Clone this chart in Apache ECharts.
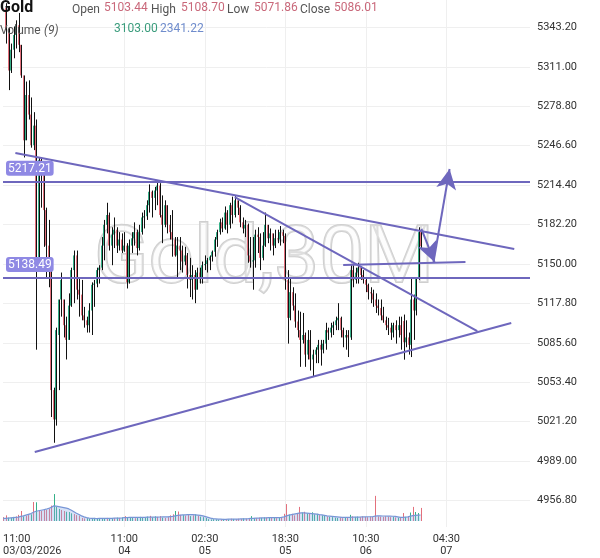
<!DOCTYPE html>
<html><head><meta charset="utf-8">
<script src="https://cdn.jsdelivr.net/npm/echarts@6/dist/echarts.min.js"></script>
<style>html,body{margin:0;padding:0;background:#fff}#c{width:600px;height:558px}</style>
</head><body><div id="c"></div>
<script>
// ---- data (30M bars, Gold) ----
const opens = [
5359,5341,5308,5325,5337,5345,5329,5304,5251,5288,
5272,5247,5263,5152,5235,5227,5194,5165,5152,5047,
5023,5092,5121,5121,5100,5088,5116,5145,5157,5129,
5125,5108,5104,5100,5112,5133,5134,5145,5147,5165,
5182,5190,5165,5174,5178,5165,5170,5161,5165,5135,
5165,5171,5176,5163,5176,5188,5189,5198,5209,5204,
5210,5214,5190,5182,5198,5182,5176,5170,5157,5165,
5161,5152,5157,5141,5137,5141,5129,5143,5139,5149,
5150,5153,5156,5160,5170,5176,5184,5179,5192,5182,
5198,5190,5202,5196,5184,5179,5182,5157,5152,5153,
5174,5172,5155,5165,5182,5171,5175,5165,5171,5170,
5176,5173,5137,5106,5127,5116,5103,5096,5088,5092,
5076,5088,5072,5076,5080,5084,5080,5085,5096,5094,
5098,5100,5104,5106,5096,5090,5092,5090,5145,5137,
5143,5147,5141,5137,5133,5127,5126,5121,5116,5114,
5108,5104,5100,5098,5094,5100,5096,5100,5103.44,5086,
5090,5084,5121,5112,5139,5176];
const closes = [
5341,5308,5325,5337,5345,5329,5304,5251,5288,5272,
5247,5263,5152,5235,5227,5194,5165,5145,5047,5023,
5096,5121,5137,5100,5088,5116,5145,5157,5129,5125,
5108,5104,5100,5112,5133,5134,5145,5147,5165,5182,
5190,5165,5174,5178,5165,5170,5161,5165,5135,5165,
5171,5176,5163,5176,5188,5189,5198,5209,5204,5210,
5214,5190,5182,5198,5182,5176,5170,5157,5165,5161,
5152,5157,5141,5137,5141,5129,5143,5139,5149,5150,
5153,5156,5160,5170,5176,5184,5179,5192,5182,5198,
5190,5202,5196,5184,5179,5182,5157,5152,5153,5174,
5172,5155,5165,5182,5171,5175,5165,5171,5170,5176,
5173,5137,5106,5127,5116,5103,5096,5088,5092,5076,
5088,5072,5076,5080,5084,5080,5085,5096,5094,5098,
5100,5104,5106,5096,5090,5092,5090,5145,5137,5143,
5147,5141,5137,5133,5127,5126,5121,5116,5114,5108,
5104,5100,5098,5094,5100,5096,5100,5092,5086.01,5090,
5084,5121,5112,5139,5176,5164.69];
const lows = [
5330,5292,5306,5318,5326,5323,5302,5237,5251,5268,
5245,5243,5080,5149,5196,5164,5139,5131,5025,5004,
5018,5047,5107,5090,5072,5088,5115,5118,5121,5107,
5104,5098,5094,5094,5092,5115,5131,5134,5145,5153,
5175,5161,5149,5163,5159,5161,5159,5160,5130,5134,
5159,5165,5157,5161,5174,5179,5186,5192,5188,5194,
5198,5188,5167,5180,5175,5170,5156,5156,5139,5145,
5143,5149,5130,5123,5121,5118,5129,5134,5134,5145,
5143,5145,5152,5156,5164,5174,5176,5178,5175,5179,
5183,5188,5190,5180,5175,5172,5151,5147,5129,5147,
5159,5145,5153,5164,5167,5161,5157,5163,5167,5165,
5167,5129,5085,5104,5112,5098,5090,5066,5085,5066,
5072,5063,5058,5069,5069,5067,5077,5080,5088,5090,
5092,5096,5096,5090,5082,5080,5074,5088,5131,5134,
5134,5137,5134,5127,5121,5118,5115,5110,5108,5104,
5102,5096,5092,5088,5090,5085,5090,5080,5071.86,5082,
5076,5074,5088,5108,5137,5163];
const highs = [
5363,5343,5330,5344,5349,5355,5329,5304,5299,5300,
5286,5274,5268,5237,5237,5228,5196,5186,5155,5049,
5098,5121,5143,5121,5107,5126,5147,5161,5161,5139,
5137,5115,5107,5118,5135,5137,5147,5149,5172,5186,
5200,5192,5180,5188,5180,5176,5175,5176,5167,5170,
5176,5184,5178,5182,5192,5194,5202,5215,5210,5213,
5217,5216,5206,5202,5198,5190,5194,5172,5172,5172,
5165,5164,5159,5155,5149,5145,5147,5147,5152,5157,
5155,5157,5161,5172,5178,5187,5188,5197,5194,5200,
5205,5206,5202,5198,5188,5186,5183,5172,5172,5178,
5180,5175,5176,5192,5182,5179,5175,5178,5178,5181,
5178,5175,5145,5139,5131,5126,5112,5111,5110,5094,
5096,5096,5080,5082,5088,5088,5088,5102,5098,5102,
5103,5107,5118,5107,5098,5096,5096,5149,5149,5147,
5151,5148,5145,5139,5134,5131,5129,5126,5121,5121,
5115,5107,5106,5102,5102,5104,5107,5107,5108.70,5104,
5094,5139,5125,5139,5180,5178];
const volumes = [
1500,2200,1300,1200,1600,1800,2400,3900,
1800,2000,2300,2600,
7400,7300,
4200,3900,4600,4300,4800,
6000,10500,
5500,4700,
4300,3900,3600,3500,3000,2700,2300,2100,
1200,1000,1100,900,1000,1200,800,900,1100,1000,1200,900,1000,1100,1300,
1200,1300,1900,1500,1200,1400,1100,1300,1600,1500,1300,1700,2000,1400,1800,1600,1900,1300,1200,1500,
2200,2600,3900,3700,2400,
2300,2100,2400,1900,2200,2600,2000,1700,1500,1200,
700,600,700,600,500,600,800,700,600,900,800,700,900,800,1000,900,
1000,1900,1200,
1100,1300,1200,1400,1300,1200,1500,1300,1100,1400,1200,
2800,6600,
2500,2800,2200,3100,5500,
3300,3600,2900,3000,3400,2600,2800,2300,
2200,2000,1800,1600,1500,1300,1200,1400,1100,1200,
1500,2400,1800,1600,1700,1500,1800,1600,1500,1700,1600,
9800,
1800,1700,1600,1900,1700,1500,1600,1400,1300,
1500,3103,1600,1800,
3300,5500,3500,3100,5100];
const volumeMA = [
1000,1000,1100,1200,
1300,1400,1500,1800,
2000,2300,2600,2900,
3400,3800,4000,4200,
4400,4600,4900,5300,
5900,5800,5600,
5400,5200,5000,4700,
4200,3600,3000,2500,
2000,1600,1300,1100,1000,
1000,950,1000,1000,1050,1000,1000,1050,1100,1100,
1150,1200,1300,1350,1400,1400,1400,1400,1450,1450,1450,1500,1500,1550,1550,1500,1550,1600,1600,1600,
1700,1800,2000,2200,2300,
2400,2400,2500,2500,2500,2400,2300,2200,
2000,1700,1400,1100,
900,800,700,700,650,650,700,700,700,750,750,800,800,850,
900,1000,1050,1100,1150,1200,1200,1250,1300,1300,1300,1300,1350,1400,
1600,2000,2300,2500,2700,2900,3100,
3200,3200,3100,3000,2900,2800,2700,2500,
2400,2200,2000,1900,1800,1700,1600,1500,1400,1400,
1400,1450,1500,1500,1550,1550,1600,1600,1650,1650,1650,
1900,2000,2000,1950,1950,1900,1900,1850,1800,
1600,1400,1400,1500,1600,
1900,2100,2200,2300,2341.22];
const priceTicks = [4956.8,4989.0,5021.2,5053.4,5085.6,5117.8,5150.0,5182.2,5214.4,5246.6,5278.8,5311.0,5343.2];
const timeTickIdx = [47,79,111,143,175];
const timeTickText = ['11:00\n04','02:30\n05','18:30\n05','10:30\n06','04:30\n07'];
const firstTickText = '11:00\n03/03/2026';
const levelLines = [5217.21, 5138.49];
const lastPrice = 5164.69;
const trendLines = [
  [[3.7,5240.6],[202.0,5162.2]],
  [[11.4,4996.4],[200.8,5101.8]],
  [[90.9,5204.7],[187.3,5095.2]],
  [[134.0,5149.2],[182.6,5151.6]]
];
const arrowLines = [
  [[165.1,5178.6],[170.3,5151.6]],
  [[169.9,5151.6],[176.3,5227.6]]
];
const headerLabels = ['Open','High','Low','Close'];
const headerValues = [5103.44,5108.70,5071.86,5086.01];
const volHeader = [3103.00, 2341.22];

// ---- styling ----
const X_MIN = -1.225, X_MAX = 208.26;
const UP = '#35b088', DOWN = '#e3707c', WICK = '#111', LINEC = '#6e67bd';
const FONT = 'Roboto, "Noto Sans", sans-serif';

const candleData = opens.map((o,i)=>[i,o,closes[i],lows[i],highs[i]]);
const volData = volumes.map((v,i)=>[i,v,closes[i]>=opens[i]?1:0]);
const maData = volumeMA.map((v,i)=>[i,v]);

function renderCandle(params, api){
  const i = api.value(0);
  const pO = api.coord([i, api.value(1)]);
  const pC = api.coord([i, api.value(2)]);
  const pL = api.coord([i, api.value(3)]);
  const pH = api.coord([i, api.value(4)]);
  const x = Math.round(pO[0]);
  const up = api.value(2) >= api.value(1);
  let y1 = pO[1], y2 = pC[1];
  if (Math.abs(y2-y1) < 1) y2 = y1 + (up ? -1 : 1);
  return {type:'group', children:[
    {type:'line', shape:{x1:x+0.5,y1:pH[1],x2:x+0.5,y2:pL[1]}, style:{stroke:WICK,lineWidth:1}},
    {type:'line', shape:{x1:x-0.5,y1:y1,x2:x-0.5,y2:y2}, style:{stroke:up?UP:DOWN,lineWidth:1}}
  ]};
}
function renderVol(params, api){
  const i = api.value(0);
  const top = api.coord([i, api.value(1)]);
  const base = api.coord([i, 0]);
  const x = Math.round(top[0]);
  return {type:'line', shape:{x1:x+0.5,y1:base[1],x2:x+0.5,y2:top[1]},
    style:{stroke: api.value(2) ? UP : DOWN, lineWidth:1}};
}

const chart = echarts.init(document.getElementById('c'), null, {renderer:'canvas'});

const markData = [];
levelLines.forEach(v=>{
  markData.push({yAxis:v, lineStyle:{color:LINEC,width:2},
    label:{show:true, position:'insideStartTop', distance:[3,6], formatter:()=>v.toFixed(2),
      backgroundColor:'#8f89e4', color:'#fff', padding:[2,2,1,2], borderRadius:3,
      fontSize:12, fontFamily:FONT}});
});
markData.push({yAxis:lastPrice, lineStyle:{opacity:0},
  label:{show:true, position:'end', distance:2, formatter:()=>lastPrice.toFixed(2),
    backgroundColor:'#f26d6d', color:'#fff', padding:[3,14,3,14], borderRadius:2,
    fontSize:12, fontFamily:FONT}});
trendLines.forEach(t=>{
  markData.push([{coord:t[0], symbol:'none'},{coord:t[1], symbol:'none'}]);
});
arrowLines.forEach(t=>{
  markData.push([{coord:t[0], symbol:'none'},{coord:t[1], symbol:'arrow', symbolSize:[15,20]}]);
});

const graphics = [
  {type:'text', x:264, y:262, z:1, silent:true,
    style:{text:'Gold,30M', font:'80px Roboto', fill:'rgba(250,250,250,0.35)', stroke:'#cfcfcf', lineWidth:2,
      align:'center', verticalAlign:'middle'}},
  {type:'text', x:0, y:8, z:100, style:{text:'Gold', font:'bold 16px Roboto', fill:'#111', verticalAlign:'middle'}}
];
const hdrLabelX = [72,151,227,300];
const hdrValX = [104,181,254,334];
headerLabels.forEach((t,k)=>{
  graphics.push({type:'text', x:hdrLabelX[k], y:10, z:100, style:{text:t, font:'12px Roboto', fill:'#555', verticalAlign:'middle'}});
  graphics.push({type:'text', x:hdrValX[k], y:8, z:100, style:{text:headerValues[k].toFixed(2), font:'12px Roboto', fill:'#c9687a', verticalAlign:'middle'}});
});
graphics.push({type:'text', x:0, y:31, z:100, style:{text:'Volume', font:'12px Roboto', fill:'#555', verticalAlign:'middle'}});
graphics.push({type:'text', x:44, y:31, z:100, style:{text:'(9)', font:'italic 12px Roboto', fill:'#555', verticalAlign:'middle'}});
graphics.push({type:'text', x:114, y:29, z:100, style:{text:volHeader[0].toFixed(2), font:'12px Roboto', fill:'#3a9c7c', verticalAlign:'middle'}});
graphics.push({type:'text', x:160, y:29, z:100, style:{text:volHeader[1].toFixed(2), font:'12px Roboto', fill:'#6f8ccc', verticalAlign:'middle'}});

chart.setOption({
  animation:false,
  backgroundColor:'#ffffff',
  textStyle:{fontFamily:FONT},
  grid:[
    {left:0, top:0, width:530, height:527},
    {left:0, top:461, width:530, height:60}
  ],
  xAxis:[
    {gridIndex:0, type:'value', min:X_MIN, max:X_MAX, position:'bottom',
      axisLine:{show:false}, axisTick:{show:false, customValues:timeTickIdx},
      axisLabel:{customValues:timeTickIdx, color:'#333', fontSize:11, lineHeight:12, margin:6, fontFamily:FONT,
        formatter:(v)=>{ for(let k=0;k<timeTickIdx.length;k++){ if(Math.abs(v-timeTickIdx[k])<0.01) return timeTickText[k]; } return ''; }},
      splitLine:{show:true, lineStyle:{color:'#efefef', width:1}}},
    {gridIndex:0, type:'value', min:X_MIN, max:X_MAX, position:'bottom',
      axisLine:{show:false}, axisTick:{show:false, customValues:[X_MIN]},
      axisLabel:{customValues:[X_MIN], align:'left', color:'#333', fontSize:11, lineHeight:12, margin:6, fontFamily:FONT,
        formatter:()=>firstTickText},
      splitLine:{show:false}},
    {gridIndex:1, type:'value', min:X_MIN, max:X_MAX, show:false}
  ],
  yAxis:[
    {gridIndex:0, type:'value', position:'right', min:4935.2, max:5365.6,
      axisLine:{show:false}, axisTick:{show:false, customValues:priceTicks},
      axisLabel:{customValues:priceTicks, color:'#333', fontSize:11, margin:7, fontFamily:FONT,
        formatter:(v)=>v.toFixed(2)},
      splitLine:{show:true, lineStyle:{color:'#efefef', width:1}}},
    {gridIndex:1, type:'value', min:0, max:23400, show:false}
  ],
  graphic: graphics,
  series:[
    {type:'custom', name:'vol', xAxisIndex:2, yAxisIndex:1, data:volData, renderItem:renderVol,
      encode:{x:0,y:1}, z:2, silent:true, clip:false},
    {type:'line', name:'volMA', xAxisIndex:2, yAxisIndex:1, data:maData, symbol:'none', z:3, silent:true,
      lineStyle:{color:'#7896d6', width:1.2}, areaStyle:{color:'rgba(140,170,230,0.5)'}},
    {type:'custom', name:'Gold', xAxisIndex:0, yAxisIndex:0, data:candleData, renderItem:renderCandle,
      encode:{x:0,y:[1,2,3,4]}, z:4, silent:true},
    {type:'line', name:'drawings', xAxisIndex:0, yAxisIndex:0, data:[], z:6, silent:true,
      markLine:{silent:true, symbol:['none','none'], animation:false,
        lineStyle:{color:LINEC, width:2, type:'solid'},
        label:{show:false}, emphasis:{disabled:true},
        data:markData}}
  ]
});
</script>
</body></html>
